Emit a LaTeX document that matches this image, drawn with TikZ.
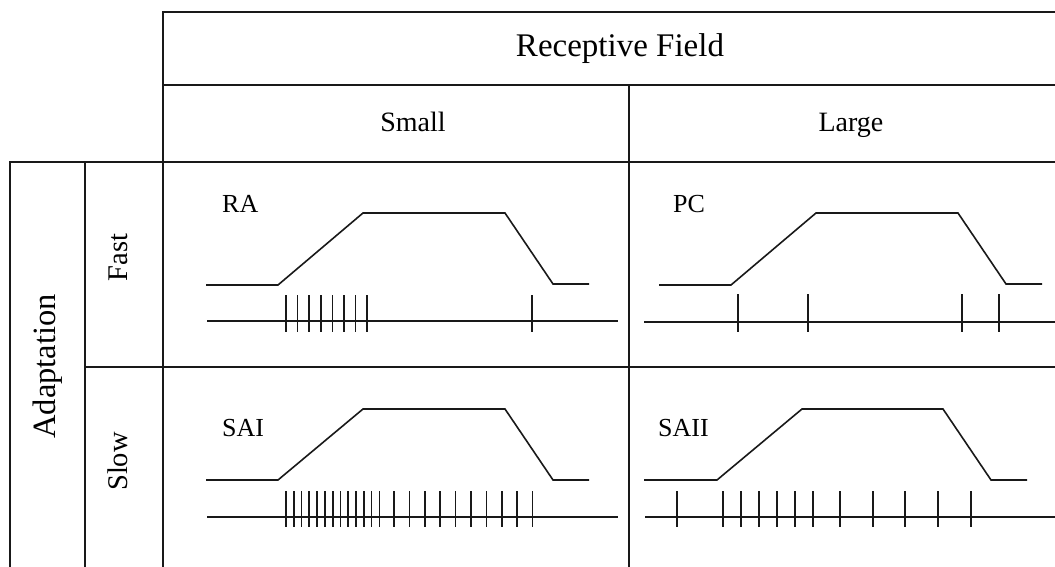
\documentclass[tikz,border=0pt]{standalone}
\usepackage{fontspec}
\setmainfont{Liberation Serif}
\begin{document}
\begin{tikzpicture}[x=1pt,y=-1pt,
  grid/.style={line width=1.5pt, black!90},
  sig/.style={line width=1.6pt, black!90, line join=miter},
  spike/.style={line width=1.7pt, black!90},
  lbl/.style={inner sep=0pt, anchor=base},
  rlbl/.style={inner sep=0pt, anchor=base, rotate=90},
  cell/.style={inner sep=0pt, anchor=base west, font=\fontsize{26}{26}\selectfont},
]
\useasboundingbox (0,0) rectangle (1055,567);
% ---------- table grid ----------
\draw[grid] (163,567) -- (163,12) -- (1055,12);
\draw[grid] (163,85) -- (1055,85);
\draw[grid] (10,567) -- (10,162) -- (1055,162);
\draw[grid] (85,162) -- (85,567);
\draw[grid] (629,85) -- (629,567);
\draw[grid] (85,367) -- (1055,367);
% ---------- headers ----------
\node[lbl, font=\fontsize{33}{33}\selectfont] (rf) at (620,56.7) {Receptive Field};
\node[lbl, font=\fontsize{28}{28}\selectfont] (small) at (413,131.7) {Small};
\node[lbl, font=\fontsize{28}{28}\selectfont] (large) at (851,131.7) {Large};
\node[rlbl, font=\fontsize{32.5}{32.5}\selectfont] (adapt) at (55,366.5) {Adaptation};
\node[rlbl, font=\fontsize{28.5}{28.5}\selectfont] (fast) at (127.5,257.5) {Fast};
\node[rlbl, font=\fontsize{28.5}{28.5}\selectfont] (slow) at (127.5,461.5) {Slow};
% ---------- cell labels ----------
\node[cell] (ra) at (222,212) {RA};
\node[cell] (pc) at (673,212) {PC};
\node[cell] (sai) at (222,436) {SAI};
\node[cell] (saii) at (658,436) {SAII};
% ---------- RA ----------
\draw[sig] (206,285) -- (278,285) -- (363,213) -- (505,213) -- (553,284) -- (589,284);
\draw[sig] (207,321) -- (618,321);
\foreach \s in {286,297.6,309.2,320.8,332.4,344,355.6,367.2,532.3}
  \draw[spike] (\s,295) -- (\s,332);
% ---------- PC ----------
\draw[sig] (659,285) -- (731,285) -- (816,213) -- (958,213) -- (1006,284) -- (1042,284);
\draw[sig] (644,321.7) -- (1055,321.7);
\foreach \s in {738.3,808.3,961.7,999.3}
  \draw[spike] (\s,294) -- (\s,332);
% ---------- SAI ----------
\draw[sig] (206,480) -- (278,480) -- (363,409) -- (505,409) -- (553,480) -- (589,480);
\draw[sig] (207,516.7) -- (618,516.7);
\foreach \i in {0,...,12}
  \draw[spike] ({286+7.78*\i},491) -- ({286+7.78*\i},527);
\foreach \i in {0,...,9}
  \draw[spike] ({394+15.4*\i},491) -- ({394+15.4*\i},527);
% ---------- SAII ----------
\draw[sig] (644,480) -- (717,480) -- (802,409) -- (943,409) -- (991,480) -- (1027,480);
\draw[sig] (645,516.7) -- (1055,516.7);
\foreach \s in {676.7,723.3,741,759.3,777.3,795.3,813.3,840,872.7,905.3,937.7,970.7}
  \draw[spike] (\s,491) -- (\s,527);
\end{tikzpicture}
\end{document}
